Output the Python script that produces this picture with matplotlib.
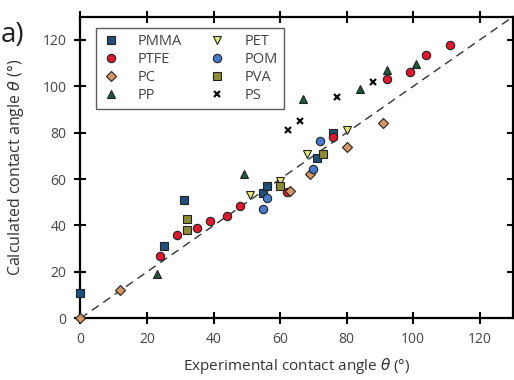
import matplotlib
matplotlib.use("Agg")
import matplotlib.pyplot as plt

plt.rcParams['font.family'] = ['Open Sans', 'DejaVu Sans']

# Experimental (x) vs calculated (y) contact angles, degrees
pmma_x = [0, 25, 31, 55, 56, 71, 76]
pmma_y = [11, 31, 51, 54, 57, 69, 80]
ptfe_x = [24, 29, 35, 39, 44, 48, 62, 76, 92, 99, 104, 111]
ptfe_y = [27, 36, 39, 42, 44, 48.5, 54.5, 78, 103, 106, 113.5, 118]
pc_x = [0, 12, 63, 69, 80, 91]
pc_y = [0, 12, 55, 62, 74, 84]
pp_x = [23, 49, 67, 84, 92, 101]
pp_y = [19, 62, 94.5, 99, 107, 109.5]
pet_x = [51, 60, 68, 80]
pet_y = [53, 59, 71, 81]
pom_x = [55, 56, 70, 72]
pom_y = [47, 52, 64.5, 76.5]
pva_x = [32, 32, 60, 73]
pva_y = [43, 38, 57, 71]
ps_x = [62.5, 66, 77, 88]
ps_y = [81, 85, 95.5, 102]

series = [
    ("PMMA", pmma_x, pmma_y, dict(marker="s", color="#1d4f7a", ms=5.5)),
    ("PTFE", ptfe_x, ptfe_y, dict(marker="o", color="#e0182d", ms=6)),
    ("PC", pc_x, pc_y, dict(marker="D", color="#d69563", ms=5)),
    ("PP", pp_x, pp_y, dict(marker="^", color="#1c5a3c", ms=6)),
    ("PET", pet_x, pet_y, dict(marker="v", color="#e6e87a", ms=6)),
    ("POM", pom_x, pom_y, dict(marker="o", color="#4a78cc", ms=6)),
    ("PVA", pva_x, pva_y, dict(marker="s", color="#8c8c34", ms=5.5)),
]

fig = plt.figure(figsize=(5.14, 3.8), dpi=100)
ax = fig.add_axes([0.1566, 0.1624, 0.8414, 0.7936])

ax.plot([0, 130], [0, 130], ls=(0, (6, 4)), color="#333333", lw=1.0, zorder=1)

for name, xs, ys, st in series:
    ax.plot(xs, ys, ls="none", marker=st["marker"], ms=st["ms"],
            markerfacecolor=st["color"], markeredgecolor="#222222",
            markeredgewidth=0.8, label=name, zorder=3, clip_on=False)
ax.plot(ps_x, ps_y, ls="none", marker="x", ms=5, color="#111111",
        markeredgewidth=1.6, label="PS", zorder=3)

ax.set_xlim(0, 130)
ax.set_ylim(0, 130)
ax.set_xticks(range(0, 121, 20))
ax.set_yticks(range(0, 121, 20))
ax.tick_params(direction="inout", length=8, width=1.5, labelsize=10,
               top=True, right=True, labelcolor="#444444", pad=6)
for s in ax.spines.values():
    s.set_linewidth(1.6)

ax.set_xlabel("Experimental contact angle $\\theta$ (°)", fontsize=11, color="#333333", labelpad=6)
ax.set_ylabel("Calculated contact angle $\\theta$ (°)", fontsize=11.5, color="#333333", labelpad=12)

leg = ax.legend(ncol=2, loc="upper left", bbox_to_anchor=(0.036, 0.9625),
                borderaxespad=0, fontsize=10.5, frameon=True, fancybox=False,
                edgecolor="#333333", handletextpad=1.25, columnspacing=1.8,
                labelspacing=0.2, borderpad=0.43, handlelength=1.2)
leg.get_frame().set_linewidth(1.0)
for t in leg.get_texts():
    t.set_color("#444444")

fig.text(0.002, 0.945, "a)", fontsize=20, va="top", ha="left", color="#222222")

fig.savefig("out.png", dpi=100)
